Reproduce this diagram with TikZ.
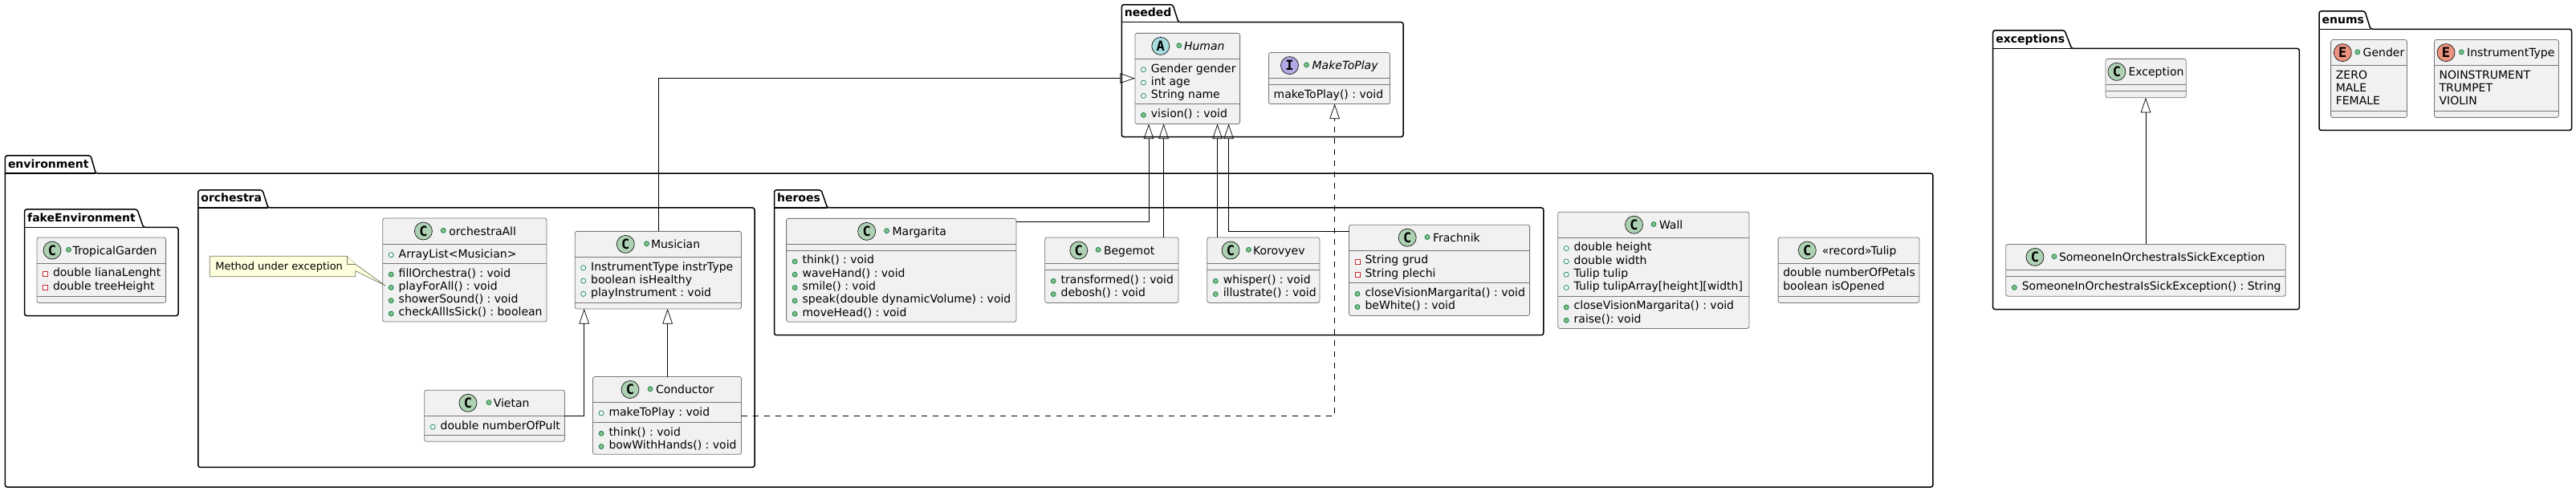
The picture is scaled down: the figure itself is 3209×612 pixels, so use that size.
\documentclass[tikz,border=0pt]{standalone}
\usepackage{fontspec}
\setmainfont{DejaVu Sans}
\newfontfamily\iconf{DejaVu Sans Mono}
\usetikzlibrary{arrows.meta,calc}
\definecolor{clsfill}{HTML}{F1F1F1}
\definecolor{clsline}{HTML}{777777}
\definecolor{noteline}{HTML}{77775F}
\definecolor{icoline}{HTML}{181818}
\definecolor{notefill}{HTML}{FEFFDD}
\definecolor{icoC}{HTML}{ADD1B2}
\definecolor{icoA}{HTML}{A9DCDF}
\definecolor{icoI}{HTML}{B4A7E5}
\definecolor{icoE}{HTML}{EB937F}
\definecolor{publine}{HTML}{038048}
\definecolor{pubfill}{HTML}{84BE84}
\definecolor{privline}{HTML}{C82930}
\tikzset{
 classbox/.style={rectangle,draw=clsline,fill=clsfill,line width=.8pt,rounded corners=2.5pt,inner sep=0pt,outer sep=0pt},
 seprule/.style={draw=clsline,line width=.8pt},
 pkgline/.style={draw=black,line width=1.5pt,rounded corners=2.5pt},
 lbl/.style={inner sep=0pt,outer sep=0pt,anchor=base west,text=black,font=\fontsize{14}{16}\selectfont\frenchspacing},
 pkglbl/.style={lbl,font=\fontsize{14}{16}\selectfont\bfseries},
 notelbl/.style={lbl,font=\fontsize{13}{15}\selectfont\frenchspacing},
 icon/.style={circle,draw=icoline,line width=.7pt,minimum size=22pt,inner sep=0pt,font=\fontsize{17}{17}\selectfont\iconf\bfseries},
 inherit/.style={draw=black,line width=.7pt,-{Triangle[open,length=18.5pt,width=12.5pt]}},
 realize/.style={inherit,dash pattern=on 7pt off 7pt},
}
\newcounter{nid}
% package: title, x1, ytab, xt1, xt2, ybody, x2, y2
\newcommand\pkg[8]{%
 \draw[pkgline] (#2,#6) -- (#2,#3) -- (#4,#3) -- (#5,#6) -- (#7,#6) -- (#7,#8) -- (#2,#8) -- cycle;
 \draw[draw=black,line width=1.5pt] (#2,#6) -- (#5,#6);
 \stepcounter{nid}\node[pkglbl] (n\arabic{nid}) at ({#2+3.6},{#6-7}) {#1};}
% class box: name, x1, y1, x2, y2, sep1, sep2
\newcommand\cbox[7]{%
 \node[classbox,minimum width={(#4-#2)*1pt},minimum height={(#5-#3)*1pt}] (#1) at ({(#2+#4)/2},{(#3+#5)/2}) {};
 \draw[seprule] (#2,#6) -- (#4,#6);
 \draw[seprule] (#2,#7) -- (#4,#7);}
% header: letter, colour, icon x, dot x, name x, top, text
\newcommand\hdr[7]{%
 \stepcounter{nid}\node[icon,fill=#2] (n\arabic{nid}) at (#3,{#6+16}) {#1};
 \stepcounter{nid}\node[lbl] (n\arabic{nid}) at (#5,{#6+21.3}) {#7};
 \draw[draw=publine,fill=pubfill,line width=.7pt] (#4,{#6+15.3}) circle[radius=3pt];}
\newcommand\hdrnd[6]{%
 \stepcounter{nid}\node[icon,fill=#2] (n\arabic{nid}) at (#3,{#5+16}) {#1};
 \stepcounter{nid}\node[lbl] (n\arabic{nid}) at (#4,{#5+21.3}) {#6};}
% members: left, sep, index, text
\newcommand\mtext[4]{\stepcounter{nid}\node[lbl] (n\arabic{nid}) at ({#1},{#2+16.7+#3*16.3}) {#4};}
\newcommand\fpub[4]{\mtext{#1+20}{#2}{#3}{#4}%
 \draw[draw=publine,fill=white,line width=.7pt] ({#1+10.5},{#2+13.4+#3*16.3}) circle[radius=3pt];}
\newcommand\mpub[4]{\mtext{#1+20}{#2}{#3}{#4}%
 \draw[draw=publine,fill=pubfill,line width=.7pt] ({#1+10.5},{#2+13.8+#3*16.3}) circle[radius=3pt];}
\newcommand\fpri[4]{\mtext{#1+20}{#2}{#3}{#4}%
 \draw[draw=privline,fill=white,line width=.7pt] ({#1+7.5},{#2+10.8+#3*16.3}) rectangle ({#1+13.5},{#2+16.8+#3*16.3});}
\newcommand\mnone[4]{\mtext{#1+6.2}{#2}{#3}{#4}}
\begin{document}
\begin{tikzpicture}[x=1pt,y=-1pt]
\useasboundingbox[fill=white] (0,0) rectangle (3209,612);
% packages
\pkg{environment}{6.4}{194}{113}{119.3}{216.2}{2407.9}{607}
\pkg{orchestra}{246.8}{237}{327}{334}{259}{940}{582.4}
\pkg{fakeEnvironment}{30.6}{261}{171}{178.6}{283.4}{222}{393.5}
\pkg{heroes}{964.5}{237}{1023}{1030.7}{259}{1922.8}{417.6}
\pkg{needed}{1397.3}{5.9}{1461}{1468}{27.7}{1748}{170.6}
\pkg{exceptions}{2482.7}{37.9}{2572}{2580.6}{60.5}{2864.3}{385.6}
\pkg{enums}{2889}{14}{2946}{2953}{36.3}{3203.5}{162.4}
% TropicalGarden
\cbox{tropical}{46}{296}{206.6}{377.4}{328}{369}
\hdr{C}{icoC}{65}{85.5}{90.6}{296}{TropicalGarden}
\fpri{46}{328}{0}{double lianaLenght}
\fpri{46}{328}{1}{double treeHeight}
% orchestraAll
\cbox{orchall}{476.7}{272}{681}{401}{304.3}{328.3}
\hdr{C}{icoC}{527.4}{552.3}{559.3}{272}{orchestraAll}
\fpub{476.7}{304.3}{0}{ArrayList<Musician>}
\mpub{476.7}{328.3}{0}{fillOrchestra() : void}
\mpub{476.7}{328.3}{1}{playForAll() : void}
\mpub{476.7}{328.3}{2}{showerSound() : void}
\mpub{476.7}{328.3}{3}{checkAllIsSick() : boolean}
% note
\coordinate (notetip) at (480,356);
\draw[draw=noteline,fill=notefill,line width=.7pt] (261.3,319.3) -- (432.3,319.3) -- (442.7,329.3) -- (notetip) -- (442.7,337.7) -- (442.7,344.7) -- (261.3,344.7) -- cycle;
\draw[draw=noteline,fill=notefill,line width=.7pt] (432.3,319.3) -- (432.3,329.3) -- (442.7,329.3);
\node[notelbl] (notetext) at (268.3,336) {Method under exception};
% Musician
\cbox{musician}{716.2}{288.4}{923.5}{385}{320.4}{377.4}
\hdr{C}{icoC}{779.3}{805.5}{811}{288.4}{Musician}
\fpub{716.2}{320.4}{0}{InstrumentType instrType}
\fpub{716.2}{320.4}{1}{boolean isHealthy}
\fpub{716.2}{320.4}{2}{playInstrument : void}
% Conductor
\cbox{conductor}{738.5}{469.5}{923.5}{566.3}{501.6}{526.5}
\hdr{C}{icoC}{785}{810}{817}{469.5}{Conductor}
\fpub{738.5}{501.6}{0}{makeToPlay : void}
\mpub{738.5}{526.5}{0}{think() : void}
\mpub{738.5}{526.5}{1}{bowWithHands() : void}
% Vietan
\cbox{vietan}{528.7}{486.3}{703.4}{550.3}{518.7}{542.5}
\hdr{C}{icoC}{583}{609}{614.8}{486.3}{Vietan}
\fpub{528.7}{518.7}{0}{double numberOfPult}
% Margarita
\cbox{margarita}{979.6}{272.4}{1266}{401.2}{304.4}{312.2}
\hdr{C}{icoC}{1079.7}{1104.6}{1111.6}{272.4}{Margarita}
\mpub{979.6}{312.2}{0}{think() : void}
\mpub{979.6}{312.2}{1}{waveHand() : void}
\mpub{979.6}{312.2}{2}{smile() : void}
\mpub{979.6}{312.2}{3}{speak(double dynamicVolume) : void}
\mpub{979.6}{312.2}{4}{moveHead() : void}
% Begemot
\cbox{begemot}{1301.7}{296}{1468}{377.4}{328}{336.5}
\hdr{C}{icoC}{1343.8}{1368}{1375}{296}{Begemot}
\mpub{1301.7}{336.5}{0}{transformed() : void}
\mpub{1301.7}{336.5}{1}{debosh() : void}
% Korovyev
\cbox{korovyev}{1503.8}{296}{1644}{377.4}{328}{336.5}
\hdr{C}{icoC}{1533}{1555.5}{1561}{296}{Korovyev}
\mpub{1503.8}{336.5}{0}{whisper() : void}
\mpub{1503.8}{336.5}{1}{illustrate() : void}
% Frachnik
\cbox{frachnik}{1680.5}{280.2}{1905.6}{393.4}{312.2}{352.5}
\hdr{C}{icoC}{1753.2}{1778}{1785}{280.2}{Frachnik}
\fpri{1680.5}{312.2}{0}{String grud}
\fpri{1680.5}{312.2}{1}{String plechi}
\mpub{1680.5}{352.5}{0}{closeVisionMargarita() : void}
\mpub{1680.5}{352.5}{1}{beWhite() : void}
% Wall
\cbox{wall}{1940.7}{264.2}{2178.9}{409.4}{296.2}{369.2}
\hdr{C}{icoC}{2035.5}{2060}{2067}{264.2}{Wall}
\fpub{1940.7}{296.2}{0}{double height}
\fpub{1940.7}{296.2}{1}{double width}
\fpub{1940.7}{296.2}{2}{Tulip tulip}
\fpub{1940.7}{296.2}{3}{Tulip tulipArray[height][width]}
\mpub{1940.7}{369.2}{0}{closeVisionMargarita() : void}
\mpub{1940.7}{369.2}{1}{raise(): void}
% Tulip
\cbox{tulip}{2215.1}{296}{2390.9}{377.4}{328}{369}
\hdrnd{C}{icoC}{2251.3}{2269.9}{296}{«record»Tulip}
\mnone{2215.1}{328}{0}{double numberOfPetals}
\mnone{2215.1}{328}{1}{boolean isOpened}
% Human
\cbox{human}{1413.9}{41.4}{1544.6}{154.6}{73.4}{129.6}
\hdr{A}{icoA}{1445.8}{1468.8}{1475}{41.4}{\itshape Human}
\fpub{1413.9}{73.4}{0}{Gender gender}
\fpub{1413.9}{73.4}{1}{int age}
\fpub{1413.9}{73.4}{2}{String name}
\mpub{1413.9}{129.6}{0}{vision() : void}
% MakeToPlay
\cbox{maketoplay}{1580.4}{65.6}{1731.5}{129.6}{97.6}{105.8}
\hdr{I}{icoI}{1606.5}{1627.6}{1634.6}{65.6}{\itshape MakeToPlay}
\mnone{1580.4}{105.8}{0}{makeToPlay() : void}
% Exception
\cbox{exception}{2623}{73.4}{2723.2}{121.8}{105.4}{113.6}
\hdrnd{C}{icoC}{2636.9}{2651.5}{73.4}{Exception}
% SomeoneIn...
\cbox{someone}{2498.8}{304.4}{2847.3}{369.2}{336.5}{344.6}
\hdr{C}{icoC}{2535}{2559}{2565}{304.4}{SomeoneInOrchestraIsSickException}
\mpub{2498.8}{344.6}{0}{SomeoneInOrchestraIsSickException() : String}
% Gender
\cbox{gender}{2903.6}{49.6}{2998.5}{146.4}{81.6}{138.6}
\hdr{E}{icoE}{2918.3}{2936.8}{2943.7}{49.6}{Gender}
\mnone{2903.6}{81.6}{0}{ZERO}
\mnone{2903.6}{81.6}{1}{MALE}
\mnone{2903.6}{81.6}{2}{FEMALE}
% InstrumentType
\cbox{instr}{3032.4}{49.6}{3187.4}{146.4}{81.6}{138.6}
\hdr{E}{icoE}{3047}{3066.3}{3073.2}{49.6}{InstrumentType}
\mnone{3032.4}{81.6}{0}{NOINSTRUMENT}
\mnone{3032.4}{81.6}{1}{TRUMPET}
\mnone{3032.4}{81.6}{2}{VIOLIN}
% connectors
\draw[inherit] (musician.north -| 820,0) |- (human.west |- 0,97.6);
\draw[inherit] (vietan.east |- 0,518.3) -| (musician.south -| 727.7,0);
\draw[inherit] (conductor.north -| 831.6,0) -- (musician.south -| 831.6,0);
\draw[inherit] (margarita.east |- 0,276.3) -| (human.south -| 1431,0);
\draw[inherit] (begemot.north -| 1449.6,0) -- (human.south -| 1449.6,0);
\draw[inherit] (korovyev.north -| 1516.6,0) -- (human.south -| 1516.6,0);
\draw[inherit] (frachnik.west |- 0,288.4) -| (human.south -| 1530.6,0);
\draw[realize] (conductor.east |- 0,518.3) -| (maketoplay.south -| 1662.6,0);
\draw[inherit] (someone.north -| 2673,0) -- (exception.south -| 2673,0);
\end{tikzpicture}
\end{document}
